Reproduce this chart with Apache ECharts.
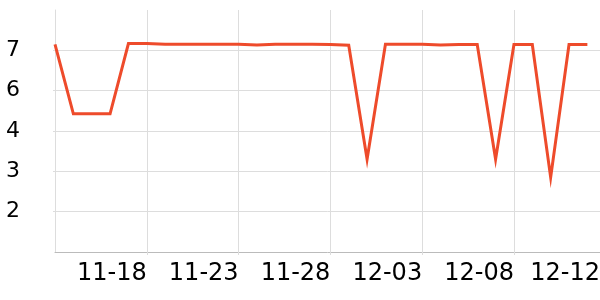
<!DOCTYPE html>
<html>
<head>
<meta charset="utf-8">
<script src="https://cdn.jsdelivr.net/npm/echarts@6/dist/echarts.min.js"></script>
<style>
  html, body { margin: 0; padding: 0; background: #ffffff; }
  #chart { width: 600px; height: 300px; }
</style>
</head>
<body>
<div id="chart"></div>
<script>
// Dates of the daily readings
const dates = [
  '2024-11-13','2024-11-14','2024-11-15','2024-11-16','2024-11-17','2024-11-18',
  '2024-11-19','2024-11-20','2024-11-21','2024-11-22','2024-11-23','2024-11-24',
  '2024-11-25','2024-11-26','2024-11-27','2024-11-28','2024-11-29','2024-11-30',
  '2024-12-01','2024-12-02','2024-12-03','2024-12-04','2024-12-05','2024-12-06',
  '2024-12-07','2024-12-08','2024-12-09','2024-12-10','2024-12-11','2024-12-12'
];
// Readings
const values = [
  7.38, 5.31, 5.31, 5.31, 7.40, 7.40,
  7.38, 7.38, 7.38, 7.38, 7.38, 7.36,
  7.38, 7.38, 7.38, 7.37, 7.35, 3.96,
  7.38, 7.38, 7.38, 7.36, 7.37, 7.37,
  3.96, 7.37, 7.37, 3.42, 7.37, 7.37
];
// X axis tick dates and range
const xTickDates = ['2024-11-18','2024-11-23','2024-11-28','2024-12-03','2024-12-08'];
const xMin = '2024-11-13 00:00';
const xMax = '2024-12-12 16:30';
// Y axis scale
const yMin = 1.2, yMax = 8.4, yInterval = 1.2;

function parseDate(s) {
  const parts = s.split(' ');
  const ymd = parts[0].split('-').map(Number);
  let h = 0, m = 0;
  if (parts[1]) { const hm = parts[1].split(':').map(Number); h = hm[0]; m = hm[1]; }
  return new Date(ymd[0], ymd[1] - 1, ymd[2], h, m).getTime();
}
function fmt(ts) {
  const d = new Date(ts);
  const mm = String(d.getMonth() + 1).padStart(2, '0');
  const dd = String(d.getDate()).padStart(2, '0');
  return mm + '-' + dd;
}

const seriesData = dates.map((d, i) => [parseDate(d), values[i]]);
const tickVals = xTickDates.map(parseDate);
const labelVals = tickVals.concat([parseDate(xMax)]);

const chart = echarts.init(document.getElementById('chart'), null, { renderer: 'canvas' });
chart.setOption({
  animation: false,
  backgroundColor: '#ffffff',
  grid: { left: 55, right: 0, top: 10, bottom: 48, containLabel: false, outerBoundsMode: 'none' },
  xAxis: {
    type: 'value',
    min: parseDate(xMin),
    max: parseDate(xMax),
    axisLine: { show: true, lineStyle: { color: '#bbbbbb', width: 1 } },
    axisTick: { show: true, length: 3, customValues: tickVals, lineStyle: { color: '#dddddd' } },
    splitLine: { show: true, lineStyle: { color: '#dddddd', width: 1 } },
    axisLabel: {
      customValues: labelVals,
      formatter: (v) => fmt(v),
      align: 'right',
      margin: 10,
      color: '#000000',
      fontFamily: 'DejaVu Sans',
      fontSize: 24,
      hideOverlap: false
    }
  },
  yAxis: {
    type: 'value',
    min: yMin,
    max: yMax,
    interval: yInterval,
    axisLine: { show: true, lineStyle: { color: '#dddddd', width: 1 } },
    axisTick: { show: true, length: 2, lineStyle: { color: '#dddddd' } },
    splitLine: { show: true, showMinLine: false, showMaxLine: false, lineStyle: { color: '#dddddd', width: 1 } },
    axisLabel: {
      showMinLabel: false,
      showMaxLabel: false,
      formatter: (v) => String(Math.floor(v + 1e-9)),
      margin: 35,
      color: '#000000',
      fontFamily: 'DejaVu Sans',
      fontSize: 22
    }
  },
  series: [{
    type: 'line',
    data: seriesData,
    showSymbol: false,
    symbol: 'none',
    smooth: false,
    lineStyle: { color: '#ee4b2b', width: 3, join: 'miter' },
    itemStyle: { color: '#ee4b2b' }
  }]
});
</script>
</body>
</html>
